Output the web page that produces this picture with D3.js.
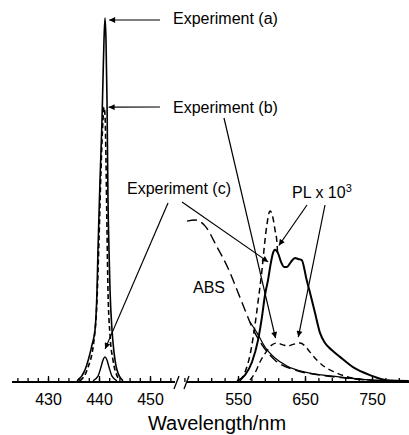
<!DOCTYPE html>
<html>
<head>
<meta charset="utf-8">
<script src="https://cdn.jsdelivr.net/npm/d3@7"></script>
<style>
  body { margin: 0; background: #fff; }
  svg { display: block; }
  text { font-family: "Liberation Sans", Arial, sans-serif; fill: #000; }
</style>
</head>
<body>
<div id="chart"></div>
<script>
// ---- data (wavelength in nm, intensity in arbitrary units) ----
// left panel: emission around 441 nm
const expA_wl = [435.7, 437.25, 438.63, 439.22, 439.61, 439.8, 440.2, 440.59, 440.78, 440.98, 441.18, 441.37, 441.57, 441.76, 441.96, 442.16, 442.55, 442.94, 443.53, 444.71];
const expA_val = [0.3, 3.3, 10.2, 14.3, 25.3, 36.3, 55.5, 72, 83, 94, 100, 94, 77.5, 50.5, 36.3, 25.3, 14.3, 8.2, 3.3, 0.3];

const expB_wl = [436.27, 437.65, 439.02, 439.61, 440.0, 440.39, 440.78, 440.98, 441.18, 441.37, 441.57, 441.76, 442.16, 442.75, 443.73];
const expB_val = [0.3, 3.3, 11.5, 22.5, 39, 58.2, 72, 75.5, 73.4, 61, 41.8, 25.3, 12.9, 6, 1.1];

const expC_wl = [438.82, 439.8, 440.39, 440.78, 441.18, 441.57, 441.96, 442.55, 443.53];
const expC_val = [0.3, 1.6, 4.1, 6, 6.9, 6, 4.1, 1.6, 0.3];

// right panel: absorption and PL (x 10^3)
const absDash_wl = [473.9, 485.8, 500.7, 518.7, 535, 548.5, 560.4, 570.9, 585.8, 605.2, 635, 672.4, 709.7, 747, 791.8];
const absDash_val = [44.2, 44.5, 42.9, 37.1, 31.3, 25.3, 19.8, 15.1, 10.2, 6.0, 3.3, 1.9, 1.1, 0.5, 0.3];

const absSolid_wl = [567.9, 578.4, 590.3, 605.2, 623.1, 650, 691.8, 751.5, 791.8];
const absSolid_val = [16.5, 13.5, 9.6, 6.6, 4.4, 2.7, 1.6, 0.5, 0.3];

const plB_wl = [553, 560.4, 567.9, 575.4, 579.9, 585.8, 590.3, 593.3, 597.8, 602.2, 605.2, 608.2, 609];
const plB_val = [0.3, 2.7, 7.4, 15.7, 22, 30.8, 39, 43.4, 47, 45.1, 41.8, 38.2, 35.7];

const plBlow_wl = [567.9, 575.4, 582.8, 591.8, 600.7, 608.2, 617.2, 624.6, 633.6, 642.5, 650, 657.5, 667.9, 679.9, 694.8, 709.7, 732.1, 762];
const plBlow_val = [0.5, 2.5, 5.5, 8.2, 10.2, 10.7, 10.2, 9.9, 10.4, 10.7, 9.9, 8.2, 6.0, 4.1, 2.7, 1.6, 0.8, 0.3];

const plC_wl = [548.5, 560.4, 570.9, 579.9, 585.8, 590.3, 594.8, 599.3, 602.2, 605.2, 609.7, 614.2, 618.7, 623.1, 629.1, 635.1, 639.6, 645.1, 652.5, 657.5, 664.9, 672.4, 679.9, 689.9, 702.2, 721.6, 747, 771.9, 805];
const plC_val = [0.3, 1.9, 5.5, 11.5, 17.9, 23.9, 28, 33, 35.4, 36.3, 35.4, 33, 31.6, 31.6, 33, 34.1, 33.8, 33.5, 28, 24.5, 19, 13.5, 10.7, 8.8, 6.9, 4.1, 1.9, 0.5, 0.3];

// axis ticks
const leftMajor = [430, 440, 450];
const leftMinor = d3.range(424, 455, 2);
const rightMajor = [550, 650, 750];
const rightMinor = d3.range(470, 806, 20);

// ---- layout ----
const width = 409, height = 435;
const baseY = 382;

const xL = d3.scaleLinear().domain([430, 450]).range([48, 150]);
const xR = d3.scaleLinear().domain([550, 750]).range([238, 372]);
const y = d3.scaleLinear().domain([0, 100]).range([baseY, 18]);

const leftEdge = 12, breakL = 177, breakR = 188, rightEdge = width;

const svg = d3.select('#chart')
  .append('svg')
  .attr('width', width)
  .attr('height', height);

const defs = svg.append('defs');
defs.append('marker')
  .attr('id', 'arrow')
  .attr('viewBox', '0 0 10 10')
  .attr('refX', 10)
  .attr('refY', 5)
  .attr('markerWidth', 9)
  .attr('markerHeight', 6)
  .attr('markerUnits', 'userSpaceOnUse')
  .attr('orient', 'auto')
  .append('path')
  .attr('d', 'M0,0L10,5L0,10z')
  .attr('fill', '#000');

function zip(wl, val) { return wl.map((w, i) => [w, val[i]]); }

function drawCurve(xs, wl, val, opt) {
  svg.append('path')
    .datum(zip(wl, val))
    .attr('fill', 'none')
    .attr('stroke', '#000')
    .attr('stroke-width', opt.w || 1.3)
    .attr('stroke-dasharray', opt.dash || null)
    .attr('stroke-linejoin', 'round')
    .attr('d', d3.line()
      .curve(d3.curveMonotoneX)
      .x(d => xs(d[0]))
      .y(d => y(d[1])));
}

// left curves
drawCurve(xL, expA_wl, expA_val, { w: 1.6 });
drawCurve(xL, expB_wl, expB_val, { w: 1.6, dash: '5,3' });
drawCurve(xL, expC_wl, expC_val, { w: 1.4 });

// right curves
drawCurve(xR, absDash_wl, absDash_val, { w: 1.4, dash: '10,5' });
drawCurve(xR, absSolid_wl, absSolid_val, { w: 1.2 });
drawCurve(xR, plBlow_wl, plBlow_val, { w: 1.4, dash: '6,4' });
drawCurve(xR, plB_wl, plB_val, { w: 1.5, dash: '6,4' });
drawCurve(xR, plC_wl, plC_val, { w: 2 });

// ---- axis ----
function tickAxis(xs, values, size, labels) {
  const g = svg.append('g')
    .attr('transform', `translate(0,${baseY})`)
    .call(d3.axisBottom(xs)
      .tickValues(values)
      .tickSize(-size)
      .tickPadding(labels ? 12 : 0)
      .tickFormat(labels ? d3.format('d') : ''));
  g.select('.domain').remove();
  g.selectAll('.tick line').attr('stroke', '#000').attr('stroke-width', 1.3);
  g.selectAll('text')
    .style('font-size', '16px')
    .attr('fill', '#000');
  return g;
}
tickAxis(xL, leftMinor, 4, false);
tickAxis(xL, leftMajor, 6, true);
tickAxis(xR, rightMinor, 4, false);
tickAxis(xR, rightMajor, 6, true);

// baseline with break
svg.append('line')
  .attr('x1', leftEdge).attr('x2', breakL - 2)
  .attr('y1', baseY).attr('y2', baseY)
  .attr('stroke', '#000').attr('stroke-width', 2);
svg.append('line')
  .attr('x1', breakR - 1).attr('x2', rightEdge)
  .attr('y1', baseY).attr('y2', baseY)
  .attr('stroke', '#000').attr('stroke-width', 2);
[breakL - 1, breakR - 2].forEach(bx => {
  svg.append('line')
    .attr('x1', bx - 2).attr('y1', baseY + 7)
    .attr('x2', bx + 3).attr('y2', baseY - 6)
    .attr('stroke', '#000').attr('stroke-width', 1.3);
});

svg.append('text')
  .attr('x', 217)
  .attr('y', 430)
  .attr('text-anchor', 'middle')
  .style('font-size', '20px')
  .text('Wavelength/nm');

// ---- annotations ----
function label(x, yy, txt) {
  return svg.append('text')
    .attr('x', x).attr('y', yy)
    .style('font-size', '16px')
    .text(txt);
}
label(173, 24, 'Experiment (a)');
label(173, 113, 'Experiment (b)');
label(127, 194, 'Experiment (c)');
label(193, 293, 'ABS');
const pl = label(292, 198, 'PL x 10');
pl.append('tspan').attr('dy', -6).style('font-size', '11px').text('3');

function arrow(x1, y1, x2, y2) {
  svg.append('line')
    .attr('x1', x1).attr('y1', y1)
    .attr('x2', x2).attr('y2', y2)
    .attr('stroke', '#000')
    .attr('stroke-width', 1.2)
    .attr('marker-end', 'url(#arrow)');
}
// tips placed on the curves through the scales
arrow(160, 20, xL(441.4) + 3, y(100) + 2);
arrow(160, 107, xL(441.3) + 3, y(75.5));
arrow(224, 118, xR(606), y(10.7) - 5);
arrow(168, 203, xL(441.2), y(6.9) - 8);
arrow(182, 202, xR(595), y(33));
arrow(307, 205, xR(611), y(37.5));
arrow(325, 205, xR(640), y(10.7) - 6);
</script>
</body>
</html>
